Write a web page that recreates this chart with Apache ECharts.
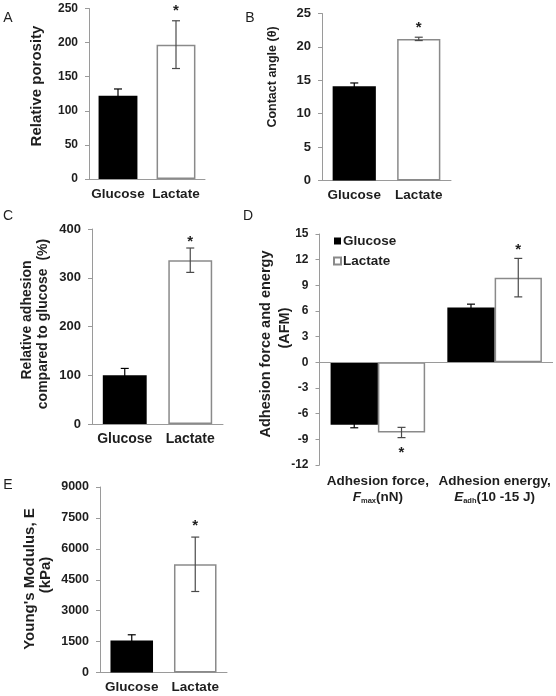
<!DOCTYPE html>
<html>
<head>
<meta charset="utf-8">
<script src="https://cdn.jsdelivr.net/npm/echarts@6/dist/echarts.min.js"></script>
<style>
  html, body { margin: 0; padding: 0; background: #fff; }
  #chart { width: 556px; height: 696px; }
</style>
</head>
<body>
<div id="chart"></div>
<script>
// ---------------- DATA ----------------
const categories = ['Glucose', 'Lactate'];

// A: Relative porosity
const porosityMean = [122, 197];
const porosityErr = [10, 35];
const porositySig = [0, 1];
const porosityTicks = { min: 0, max: 250, interval: 50 };

// B: Contact angle
const contactMean = [14.1, 21.2];
const contactErr = [0.5, 0.25];
const contactSig = [0, 1];
const contactTicks = { min: 0, max: 25, interval: 5 };

// C: Relative adhesion (%)
const adhesionMean = [100, 336];
const adhesionErr = [14, 25];
const adhesionSig = [0, 1];
const adhesionTicks = { min: 0, max: 400, interval: 100 };

// D: Adhesion force and energy (AFM)
const afmCategories = ['Adhesion force', 'Adhesion energy'];
const afmLabelParts = [
  ['Adhesion force,', 'F', 'max', '(nN)'],
  ['Adhesion energy,', 'E', 'adh', '(10 -15 J)']
];
const afmGlucoseMean = [-7.3, 6.4];
const afmGlucoseErr = [0.35, 0.4];
const afmGlucoseSig = [0, 0];
const afmLactateMean = [-8.2, 9.9];
const afmLactateErr = [0.6, 2.25];
const afmLactateSig = [-1, 1];
const afmTicks = { min: -12, max: 15, interval: 3 };

// E: Young's modulus
const modulusMean = [1550, 5250];
const modulusErr = [280, 1320];
const modulusSig = [0, 1];
const modulusTicks = { min: 0, max: 9000, interval: 1500 };

// ---------------- STYLE ----------------
const FONT = "'Liberation Sans', Arial, sans-serif";
const TXT = '#1e1e1e';
const AXIS = '#9a9a9a';
const glucoseStyle = { color: '#000000' };
const lactateStyle = { color: '#ffffff', borderColor: '#8a8a8a', borderWidth: 1.5 };
const barStyles = [glucoseStyle, lactateStyle];
const errColors = ['#000000', '#4a4a4a'];

const grids = [
  { left: 89, top: 8.5, width: 116, height: 170.5 },   // A
  { left: 322, top: 13.5, width: 129, height: 167 },   // B
  { left: 92, top: 229, width: 131, height: 195 },     // C
  { left: 319.5, top: 234, width: 233.5, height: 231 },// D
  { left: 100, top: 487, width: 127, height: 185.5 }   // E
];
const tickFont = [12, 13, 13, 12, 12.5];
const catFont = [13.5, 13.5, 14, 13.5, 13.5];
const starGap = [13, 13, 10, 9, 15];

function yAxisFor(i, t) {
  return {
    type: 'value', gridIndex: i, min: t.min, max: t.max, interval: t.interval,
    axisLine: { show: true, lineStyle: { color: AXIS, width: 1 } },
    axisTick: { show: true, inside: false, length: 4, lineStyle: { color: AXIS } },
    axisLabel: { fontSize: tickFont[i], fontWeight: 'bold', fontFamily: FONT, color: TXT, margin: 11,
                 formatter: function (v) { return String(v); } },
    splitLine: { show: false }
  };
}
function xAxisFor(i, cats, extra) {
  return Object.assign({
    type: 'category', gridIndex: i, data: cats,
    axisLine: { show: true, onZero: false, lineStyle: { color: AXIS, width: 1 } },
    axisTick: { show: false },
    axisLabel: { fontSize: catFont[i], fontWeight: 'bold', fontFamily: FONT, color: TXT, margin: 8, interval: 0 }
  }, extra || {});
}

function errRender(gap, colors, offsetSign, groupFrac) {
  return function (params, api) {
    const x = api.value(0), m = api.value(1), e = api.value(2), sig = api.value(3);
    const hi = api.coord([x, m + e]);
    const lo = api.coord([x, m - e]);
    const band = api.size([1, 0])[0];
    let cx = hi[0];
    if (offsetSign) cx += offsetSign * band * groupFrac / 4;
    const color = colors[params.dataIndex % colors.length];
    const cap = 4;
    const children = [
      { type: 'line', shape: { x1: cx, y1: hi[1], x2: cx, y2: lo[1] }, style: { stroke: color, lineWidth: 1.2 } },
      { type: 'line', shape: { x1: cx - cap, y1: hi[1], x2: cx + cap, y2: hi[1] }, style: { stroke: color, lineWidth: 1.2 } },
      { type: 'line', shape: { x1: cx - cap, y1: lo[1], x2: cx + cap, y2: lo[1] }, style: { stroke: color, lineWidth: 1.2 } }
    ];
    if (sig) {
      const fs = 15;
      const ty = sig > 0 ? hi[1] - gap + 0.225 * fs : lo[1] + gap + 0.225 * fs;
      children.push({
        type: 'text', x: cx, y: ty,
        style: { text: '*', fill: TXT, font: 'bold ' + fs + 'px ' + FONT,
                 align: 'center', verticalAlign: 'middle', textAlign: 'center', textVerticalAlign: 'middle' }
      });
    }
    return { type: 'group', children: children };
  };
}

function simplePanel(i, mean, err, sig) {
  return [
    {
      type: 'bar', name: 'bars' + i, xAxisIndex: i, yAxisIndex: i, barCategoryGap: '33%',
      data: mean.map((v, k) => ({ value: v, itemStyle: barStyles[k] })),
      silent: true
    },
    {
      type: 'custom', name: 'err' + i, xAxisIndex: i, yAxisIndex: i, z: 5, silent: true,
      renderItem: errRender(starGap[i], errColors, 0, 0),
      data: mean.map((v, k) => [k, v, err[k], sig[k]])
    }
  ];
}

const afmGroupFrac = 0.81;
const series = [].concat(
  simplePanel(0, porosityMean, porosityErr, porositySig),
  simplePanel(1, contactMean, contactErr, contactSig),
  simplePanel(2, adhesionMean, adhesionErr, adhesionSig),
  simplePanel(4, modulusMean, modulusErr, modulusSig),
  [
    {
      type: 'bar', name: 'Glucose', xAxisIndex: 3, yAxisIndex: 3, barGap: '0%', barCategoryGap: '19%',
      itemStyle: glucoseStyle, data: afmGlucoseMean, silent: true,
      markLine: { symbol: 'none', silent: true, label: { show: false },
                  lineStyle: { color: AXIS, type: 'solid', width: 1 }, data: [{ yAxis: 0 }] }
    },
    {
      type: 'bar', name: 'Lactate', xAxisIndex: 3, yAxisIndex: 3, barGap: '0%', barCategoryGap: '19%',
      itemStyle: lactateStyle, data: afmLactateMean, silent: true
    },
    {
      type: 'custom', name: 'errG', xAxisIndex: 3, yAxisIndex: 3, z: 5, silent: true,
      renderItem: errRender(starGap[3], ['#000000'], -1, afmGroupFrac),
      data: afmGlucoseMean.map((v, k) => [k, v, afmGlucoseErr[k], afmGlucoseSig[k]])
    },
    {
      type: 'custom', name: 'errL', xAxisIndex: 3, yAxisIndex: 3, z: 5, silent: true,
      renderItem: errRender(starGap[3] + 3, ['#4a4a4a'], 1, afmGroupFrac),
      data: afmLactateMean.map((v, k) => [k, v, afmLactateErr[k], afmLactateSig[k]])
    }
  ]
);

function titleText(text, x, y, size) {
  return {
    type: 'text', x: x, y: y, rotation: Math.PI / 2, silent: true,
    style: { text: text, fill: TXT, font: 'bold ' + size + 'px ' + FONT, align: 'center', verticalAlign: 'middle' }
  };
}
function letterText(text, x, y) {
  return {
    type: 'text', x: x, y: y, silent: true,
    style: { text: text, fill: TXT, font: '14px ' + FONT, align: 'center', verticalAlign: 'middle' }
  };
}

const option = {
  animation: false,
  backgroundColor: '#ffffff',
  grid: grids.map(g => Object.assign({ containLabel: false }, g)),
  xAxis: [
    xAxisFor(0, categories),
    xAxisFor(1, categories),
    xAxisFor(2, categories),
    xAxisFor(3, afmCategories, {
      axisLine: { show: false, onZero: false },
      axisLabel: {
        interval: 0, margin: 8, color: TXT, fontFamily: FONT, fontWeight: 'bold', fontSize: 13.5, lineHeight: 16,
        formatter: function (v, idx) {
          const p = afmLabelParts[idx];
          return '{b|' + p[0] + '}\n{i|' + p[1] + '}{s|' + p[2] + '}{b|' + p[3] + '}';
        },
        rich: {
          b: { fontSize: 13.5, fontWeight: 'bold', fontFamily: FONT, color: TXT, lineHeight: 16 },
          i: { fontSize: 13.5, fontWeight: 'bold', fontStyle: 'italic', fontFamily: FONT, color: TXT, lineHeight: 16 },
          s: { fontSize: 7.5, fontFamily: FONT, color: TXT, lineHeight: 16, verticalAlign: 'bottom', padding: [5, 0, 0, 0] }
        }
      }
    }),
    xAxisFor(4, categories)
  ],
  yAxis: [
    yAxisFor(0, porosityTicks),
    yAxisFor(1, contactTicks),
    yAxisFor(2, adhesionTicks),
    yAxisFor(3, afmTicks),
    yAxisFor(4, modulusTicks)
  ],
  legend: {
    data: ['Glucose', 'Lactate'],
    orient: 'vertical', left: 328, top: 229,
    icon: 'rect', itemWidth: 7, itemHeight: 7, itemGap: 6,
    selectedMode: false,
    textStyle: { fontSize: 13.5, fontWeight: 'bold', fontFamily: FONT, color: TXT, padding: [0, 0, 0, -3] }
  },
  graphic: [
    letterText('A', 8, 18),
    letterText('B', 250, 18),
    letterText('C', 8, 216),
    letterText('D', 248, 216),
    letterText('E', 8, 485),
    titleText('Relative porosity', 37, 86, 15),
    titleText('Contact angle (θ)', 273, 77, 12.5),
    titleText('Relative adhesion', 27, 320, 14),
    titleText('compared to glucose  (%)', 43.5, 324, 14),
    titleText('Adhesion force and energy', 266, 344, 14.5),
    titleText('(AFM)', 285, 328, 14.5),
    titleText("Young's Modulus, E", 29.5, 579, 15),
    titleText('(kPa)', 45.5, 575, 15)
  ],
  series: series
};

const chart = echarts.init(document.getElementById('chart'), null, { renderer: 'canvas' });
chart.setOption(option);
</script>
</body>
</html>
